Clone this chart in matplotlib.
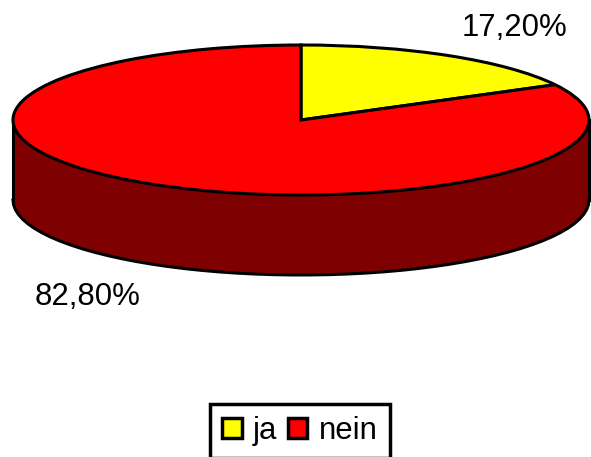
import numpy as np
import matplotlib
matplotlib.use("Agg")
import matplotlib.pyplot as plt
from matplotlib.patches import Patch

labels = ["ja", "nein"]
values = [17.2, 82.8]
value_labels = ["17,20%", "82,80%"]
colors = ["#ffff00", "#ff0000"]

plt.rcParams["font.family"] = ["Liberation Sans", "DejaVu Sans"]

W, H = 591, 457
fig = plt.figure(figsize=(W / 100, H / 100), dpi=100)
ax = fig.add_axes([0, 0, 1, 1])

# unit pie squashed into an ellipse by the axis limits
cx, cy = 301, 120
rx, ry = 288, 75
depth = 80 / ry
ax.axis("off")

# side wall, coarse segments like the stepped outline of the original
theta = np.linspace(np.pi, 2 * np.pi, 50)
xs = np.cos(theta)
lower = np.sin(theta)
ax.fill_between(xs, lower - depth, lower, color="#7f0000", lw=0, zorder=1)
ax.plot(xs, lower - depth, color="black", lw=2.2, zorder=2)
ax.plot([-1, -1], [0, -depth], color="black", lw=2.2, zorder=2)
ax.plot([1, 1], [0, -depth], color="black", lw=2.2, zorder=2)

wedges, _ = ax.pie(values, colors=colors, startangle=90, counterclock=False,
                   radius=1, wedgeprops={"edgecolor": "black", "linewidth": 2.2, "zorder": 3})
ax.set_aspect("auto")
ax.set_xlim((0 - cx) / rx, (W - cx) / rx)
ax.set_ylim((cy - H) / ry, cy / ry)

ax.text((515 - cx) / rx, (cy - 28) / ry, value_labels[0], fontsize=22.4,
        ha="center", va="center", color="black")
ax.text((88 - cx) / rx, (cy - 297) / ry, value_labels[1], fontsize=22.4,
        ha="center", va="center", color="black")

handles = [Patch(facecolor=c, edgecolor="black", linewidth=2.5) for c in colors]
leg = fig.legend(handles, labels, loc="center", bbox_to_anchor=(300 / W, 1 - 431 / H),
                 ncol=2, fontsize=22.4, frameon=True, fancybox=False, edgecolor="black",
                 framealpha=1, handlelength=0.62, handleheight=0.62, handletextpad=0.36,
                 columnspacing=0.35, borderpad=0.4)
leg.get_frame().set_linewidth(2.5)

fig.savefig("out.png", dpi=100)
